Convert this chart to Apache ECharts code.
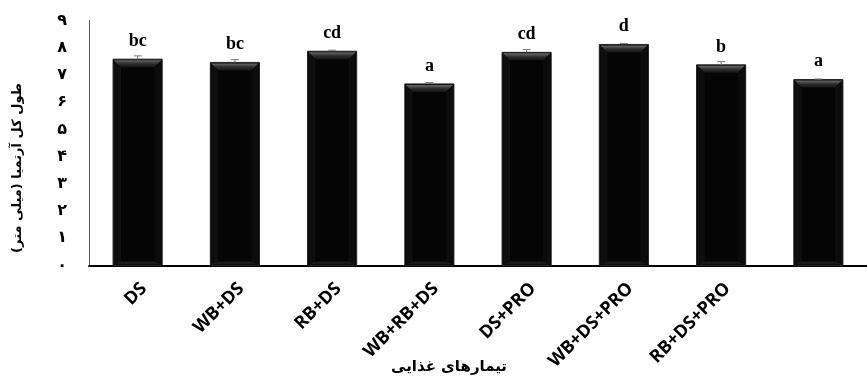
<!DOCTYPE html>
<html>
<head>
<meta charset="utf-8">
<script src="https://cdn.jsdelivr.net/npm/echarts@6/dist/echarts.min.js"></script>
<style>html,body{margin:0;padding:0;background:#fff}#c{width:867px;height:376px}</style>
</head>
<body>
<div id="c"></div>
<script>
var categories = ['DS', 'WB+DS', 'RB+DS', 'WB+RB+DS', 'DS+PRO', 'WB+DS+PRO', 'RB+DS+PRO', ''];
var values = [7.58, 7.46, 7.87, 6.67, 7.83, 8.12, 7.37, 6.83];
var errors = [0.12, 0.10, 0.04, 0.05, 0.10, 0.04, 0.12, 0.02];
var letters = ['bc', 'bc', 'cd', 'a', 'cd', 'd', 'b', 'a'];
var persianDigits = ['۰', '۱', '۲', '۳', '۴', '۵', '۶', '۷', '۸', '۹'];
var yTitle = 'طول کل آرتمیا (میلی متر)';
var xTitle = 'تیمارهای غذایی';

var chart = echarts.init(document.getElementById('c'));

function barItem(params, api) {
  var i = api.value(0), v = api.value(1);
  var top = api.coord([i, v]);
  var base = api.coord([i, 0]);
  var w = api.size([1, 0])[0] * 0.505;
  var x0 = top[0] - w / 2, x1 = top[0] + w / 2;
  var yt = top[1], yb = base[1];
  var b = 8;
  return {
    type: 'group',
    children: [
      { type: 'rect', shape: { x: x0, y: yt, width: w, height: yb - yt },
        style: { fill: '#050505', stroke: '#222', lineWidth: 1 } },
      { type: 'polygon', shape: { points: [[x0 + 1, yt + 1], [x0 + b, yt + b], [x0 + b, yb - 3], [x0 + 1, yb - 1]] },
        style: { fill: '#0e0e0e' } },
      { type: 'polygon', shape: { points: [[x1 - 1, yt + 1], [x1 - b, yt + b], [x1 - b, yb - 3], [x1 - 1, yb - 1]] },
        style: { fill: '#0c0c0c' } },
      { type: 'polygon', shape: { points: [[x0 + b, yb - 4], [x1 - b, yb - 4], [x1 - 1, yb - 1], [x0 + 1, yb - 1]] },
        style: { fill: '#1a1a1a' } },
      { type: 'polygon', shape: { points: [[x0 + 1, yt + 1], [x1 - 1, yt + 1], [x1 - b, yt + b], [x0 + b, yt + b]] },
        style: { fill: new echarts.graphic.LinearGradient(0, 0, 0, 1, [
          { offset: 0, color: '#6a6a6a' }, { offset: 0.5, color: '#2e2e2e' }, { offset: 1, color: '#141414' }]) } }
    ]
  };
}

function errItem(params, api) {
  var i = api.value(0), v = api.value(1), e = api.value(2);
  var p0 = api.coord([i, v]);
  var p1 = api.coord([i, v + e]);
  var c = 4;
  return {
    type: 'group',
    children: [
      { type: 'line', shape: { x1: p0[0], y1: p0[1], x2: p1[0], y2: p1[1] }, style: { stroke: '#777', lineWidth: 1 } },
      { type: 'line', shape: { x1: p1[0] - c, y1: p1[1], x2: p1[0] + c, y2: p1[1] }, style: { stroke: '#777', lineWidth: 1 } }
    ]
  };
}

function letterItem(params, api) {
  var i = api.value(0), v = api.value(1);
  var p = api.coord([i, v]);
  return {
    type: 'text',
    style: {
      text: letters[params.dataIndex], x: p[0], y: p[1] - 9,
      align: 'center', verticalAlign: 'bottom',
      font: 'bold 18px "Liberation Serif", serif', fill: '#000'
    }
  };
}

var barData = values.map(function (v, i) { return [i, v]; });
var errData = values.map(function (v, i) { return [i, v, errors[i]]; });

chart.setOption({
  animation: false,
  backgroundColor: '#fff',
  grid: { left: 89, right: -14, top: 20.5, bottom: 110.5, containLabel: false },
  graphic: [
    { type: 'text', x: 18, y: 168, rotation: Math.PI / 2,
      style: { text: yTitle, align: 'center', verticalAlign: 'middle',
        font: 'bold 13px "DejaVu Sans"', fill: '#000' } },
    { type: 'text', x: 449, y: 367,
      style: { text: xTitle, align: 'center', verticalAlign: 'middle',
        font: 'bold 15px "DejaVu Sans"', fill: '#000' } }
  ],
  xAxis: {
    type: 'category', data: categories,
    axisLine: { lineStyle: { color: '#000', width: 2 } },
    axisTick: { show: false },
    axisLabel: { rotate: 45, margin: 14, interval: 0, color: '#000',
      verticalAlign: 'top', lineHeight: 18,
      fontFamily: 'Open Sans', fontWeight: 'bold', fontSize: 18 }
  },
  yAxis: {
    type: 'value', min: 0, max: 9, interval: 1,
    axisLine: { show: true, lineStyle: { color: '#555', width: 1 } },
    axisTick: { show: false },
    splitLine: { show: false },
    axisLabel: { margin: 22, color: '#000', fontFamily: 'DejaVu Sans', fontWeight: 'bold', fontSize: 16,
      formatter: function (v) { return persianDigits[v]; } }
  },
  series: [
    { type: 'custom', renderItem: barItem, data: barData, encode: { x: 0, y: 1 }, z: 2 },
    { type: 'custom', renderItem: errItem, data: errData, encode: { x: 0, y: 1 }, z: 3 },
    { type: 'custom', renderItem: letterItem, data: barData, encode: { x: 0, y: 1 }, z: 4 }
  ]
});
</script>
</body>
</html>
